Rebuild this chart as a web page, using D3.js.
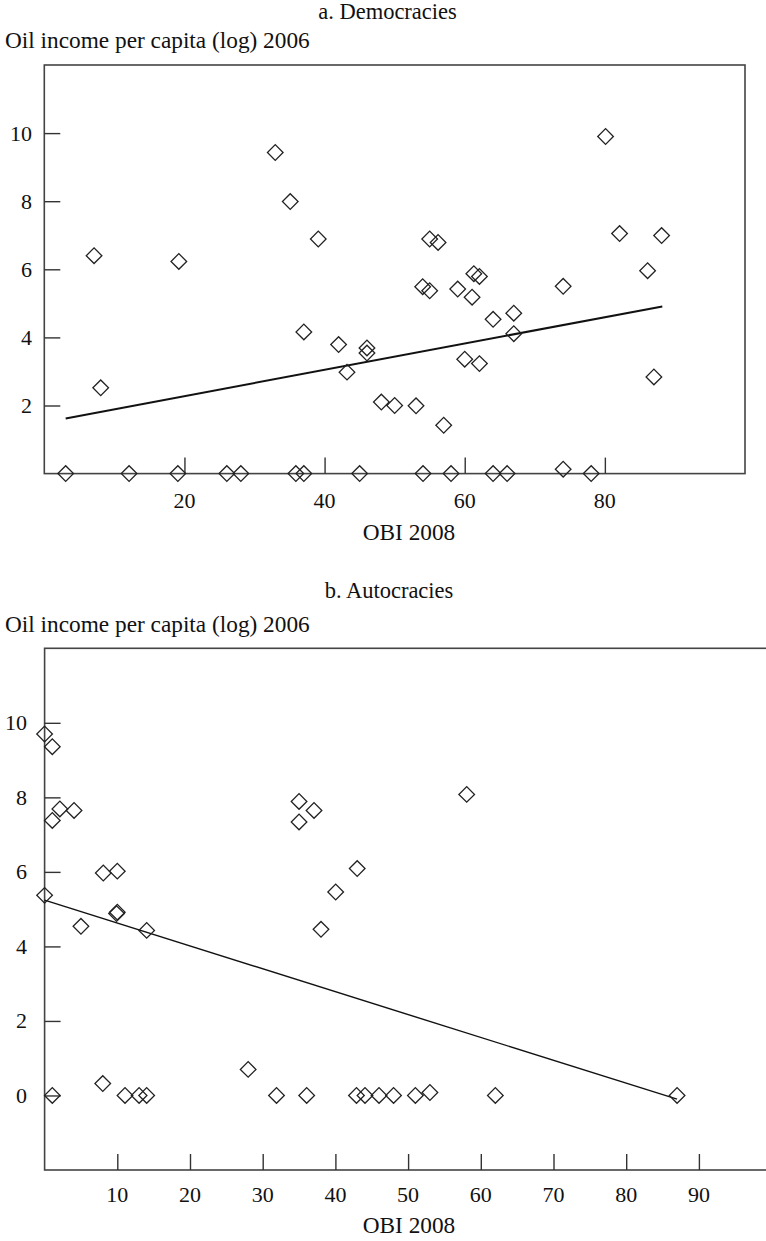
<!DOCTYPE html>
<html>
<head>
<meta charset="utf-8">
<script src="https://cdn.jsdelivr.net/npm/d3@7"></script>
<style>
  html, body { margin: 0; padding: 0; background: #fff; }
  svg { display: block; }
  text { font-family: "Liberation Serif", "Times New Roman", serif; fill: #111; }
</style>
</head>
<body>
<svg id="chart" width="766" height="1241"></svg>
<script>
// ---------- data ----------
const demOBI = [3.05, 7.1, 8.05, 12.1, 19.06, 19.2, 26.05, 28.05, 32.96, 35.1, 35.9, 37.04, 37.04, 39.1, 42.0, 43.2, 45.0, 46.05, 46.05, 48.1, 50.0, 53.05, 54.0, 54.05, 55.0, 55.0, 56.2, 57.0, 58.05, 59.0, 60.0, 61.05, 61.3, 62.1, 62.1, 64.05, 64.05, 66.05, 67.0, 67.0, 74.05, 74.05, 78.05, 80.1, 82.1, 86.1, 87.0, 88.1];
const demOil = [0, 6.4, 2.52, 0, 0, 6.23, 0, 0, 9.43, 7.99, 0, 0, 4.16, 6.89, 3.79, 2.98, 0, 3.69, 3.54, 2.1, 2.0, 1.99, 5.49, 0, 6.89, 5.37, 6.79, 1.42, 0, 5.42, 3.36, 5.18, 5.87, 5.79, 3.23, 4.53, 0, 0, 4.71, 4.11, 5.5, 0.13, 0, 9.9, 7.05, 5.96, 2.84, 6.99];
const demFitX = [3.05, 88.2];
const demFitY = [1.62, 4.91];

const autOBI = [0, 1.06, 2.1, 4.05, 1.06, 8.07, 10.0, 0, 10.0, 9.9, 5.0, 14.04, 1.06, 8.0, 11.06, 13.0, 14.04, 28.0, 35.0, 37.06, 35.0, 43.0, 40.04, 38.02, 58.06, 31.9, 36.05, 42.9, 44.07, 46, 48, 51, 53, 62, 87];
const autOil = [9.7, 9.36, 7.69, 7.65, 7.38, 5.97, 6.02, 5.37, 4.92, 4.88, 4.54, 4.43, 0, 0.32, 0, 0, 0, 0.70, 7.89, 7.65, 7.34, 6.09, 5.46, 4.46, 8.08, 0, 0, 0, 0, 0, 0, 0, 0.08, 0, 0];
const autFitX = [0, 87];
const autFitY = [5.24, -0.1];

const demXTicks = [20, 40, 60, 80];
const demYTicks = [2, 4, 6, 8, 10];
const autXTicks = [10, 20, 30, 40, 50, 60, 70, 80, 90];
const autYTicks = [0, 2, 4, 6, 8, 10];

const titles = ["a. Democracies", "b. Autocracies"];
const yTitle = "Oil income per capita (log) 2006";
const xTitle = "OBI 2008";

// ---------- drawing ----------
const svg = d3.select("#chart");
const FS = 22;
const FS_AXT = 23.3;

function panel(cfg) {
  const g = svg.append("g");
  const x = cfg.x, y = cfg.y;
  const [x0, x1] = x.range();
  const [yb, yt] = y.range();

  // title and y title
  g.append("text").attr("x", cfg.titleX).attr("y", cfg.titleY)
    .attr("text-anchor", "middle").attr("font-size", 22.5).text(cfg.title);
  g.append("text").attr("x", 5).attr("y", cfg.yTitleY)
    .attr("font-size", FS_AXT).text(yTitle);

  // frame
  g.append("rect").attr("x", x0).attr("y", yt)
    .attr("width", x1 - x0).attr("height", yb - yt)
    .attr("fill", "none").attr("stroke", "#444").attr("stroke-width", 1.6);

  // y axis ticks (inward)
  const ya = d3.axisRight(y).tickValues(cfg.yTicks).tickSize(16).tickFormat("");
  const yg = g.append("g").attr("transform", `translate(${x0},0)`).call(ya);
  yg.select(".domain").remove();
  yg.selectAll("line").attr("stroke", "#333").attr("stroke-width", 1.4);
  g.selectAll(".ylab").data(cfg.yTicks).enter().append("text")
    .attr("x", cfg.yLabX).attr("y", d => y(d)).attr("dy", "0.34em")
    .attr("text-anchor", "end").attr("font-size", FS).text(d => d);

  // x axis ticks (inward)
  const xa = d3.axisTop(x).tickValues(cfg.xTicks).tickSize(16).tickFormat("");
  const xg = g.append("g").attr("transform", `translate(0,${yb})`).call(xa);
  xg.select(".domain").remove();
  xg.selectAll("line").attr("stroke", "#333").attr("stroke-width", 1.4);
  g.selectAll(".xlab").data(cfg.xTicks).enter().append("text")
    .attr("x", d => x(d)).attr("y", cfg.xLabY)
    .attr("text-anchor", "middle").attr("font-size", FS).text(d => d);

  g.append("text").attr("x", cfg.xTitleX).attr("y", cfg.xTitleY)
    .attr("text-anchor", "middle").attr("font-size", FS_AXT).text(xTitle);

  // fit line
  const line = d3.line().x(d => x(d[0])).y(d => y(d[1]));
  g.append("path").datum(cfg.fitX.map((v, i) => [v, cfg.fitY[i]]))
    .attr("d", line).attr("fill", "none").attr("stroke", "#111")
    .attr("stroke-width", cfg.fitW);

  // points
  const sym = d3.symbol(d3.symbolSquare).size(122);
  g.selectAll(".pt").data(cfg.px.map((v, i) => [v, cfg.py[i]])).enter()
    .append("path")
    .attr("d", sym)
    .attr("transform", d => `translate(${x(d[0])},${y(d[1])}) rotate(45)`)
    .attr("fill", "none").attr("stroke", "#222").attr("stroke-width", 1.3);
}

panel({
  title: titles[0], titleX: 387.5, titleY: 19, yTitleY: 48,
  x: d3.scaleLinear([0, 100], [44.3, 745]),
  y: d3.scaleLinear([0, 12], [473.6, 65]),
  xTicks: demXTicks, yTicks: demYTicks,
  yLabX: 32, xLabY: 508, xTitleX: 409, xTitleY: 540,
  px: demOBI, py: demOil, fitX: demFitX, fitY: demFitY, fitW: 2
});

panel({
  title: titles[1], titleX: 389, titleY: 598, yTitleY: 632,
  x: d3.scaleLinear([0, 100], [44.6, 771.6]),
  y: d3.scaleLinear([-2, 12], [1170, 648.3]),
  xTicks: autXTicks, yTicks: autYTicks,
  yLabX: 27, xLabY: 1202, xTitleX: 409, xTitleY: 1233,
  px: autOBI, py: autOil, fitX: autFitX, fitY: autFitY, fitW: 1.4
});
</script>
</body>
</html>
